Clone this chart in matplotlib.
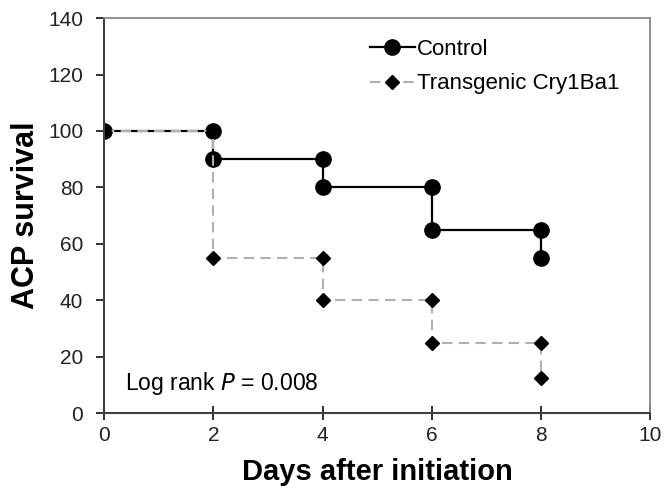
import matplotlib.pyplot as plt

# step points of the survival curves
control_days = [0, 2, 2, 4, 4, 6, 6, 8, 8]
control_surv = [100, 100, 90, 90, 80, 80, 65, 65, 55]
cry_days = [0, 2, 2, 4, 4, 6, 6, 8, 8]
cry_surv = [100, 100, 55, 55, 40, 40, 25, 25, 12.5]

plt.rcParams['font.family'] = ['Liberation Sans', 'DejaVu Sans']

fig = plt.figure(figsize=(6.67, 4.9), dpi=100)
ax = fig.add_axes([0.156, 0.157, 0.819, 0.806])

ax.plot(control_days, control_surv, '-', color='black', linewidth=1.6,
        marker='o', markersize=11, label='Control')
ax.plot(cry_days, cry_surv, '--', color='#b0b0b0', linewidth=1.5, dashes=(5, 3),
        marker='D', markersize=6.8, markerfacecolor='black', markeredgecolor='black',
        label='Transgenic Cry1Ba1')

ax.set_xlim(0, 10)
ax.set_ylim(0, 140)
ax.set_xticks(range(0, 11, 2))
ax.set_yticks(range(0, 141, 20))
ax.tick_params(axis='both', labelsize=15, width=1.3, length=6, colors='#222222')
ax.tick_params(axis='x', direction='inout', length=10, pad=4)
ax.tick_params(axis='y', pad=9)
for s in ['left', 'bottom']:
    ax.spines[s].set_linewidth(1.5)
    ax.spines[s].set_color('#404040')
for s in ['top', 'right']:
    ax.spines[s].set_linewidth(1.3)
    ax.spines[s].set_color('#888888')

ax.set_xlabel('Days after initiation', fontsize=21, fontweight='bold', labelpad=10)
ax.set_ylabel('ACP survival', fontsize=22, fontweight='bold', labelpad=5)

ax.text(0.38, 8.2, 'Log rank $\\it{P}$ = 0.008', fontsize=16.5)

ax.legend(loc='upper left', frameon=False, fontsize=16, handlelength=2.0,
          labelspacing=0.6, bbox_to_anchor=(0.487, 0.947), borderaxespad=0,
          borderpad=0, handletextpad=0.1)

plt.savefig('out.png', dpi=100)
